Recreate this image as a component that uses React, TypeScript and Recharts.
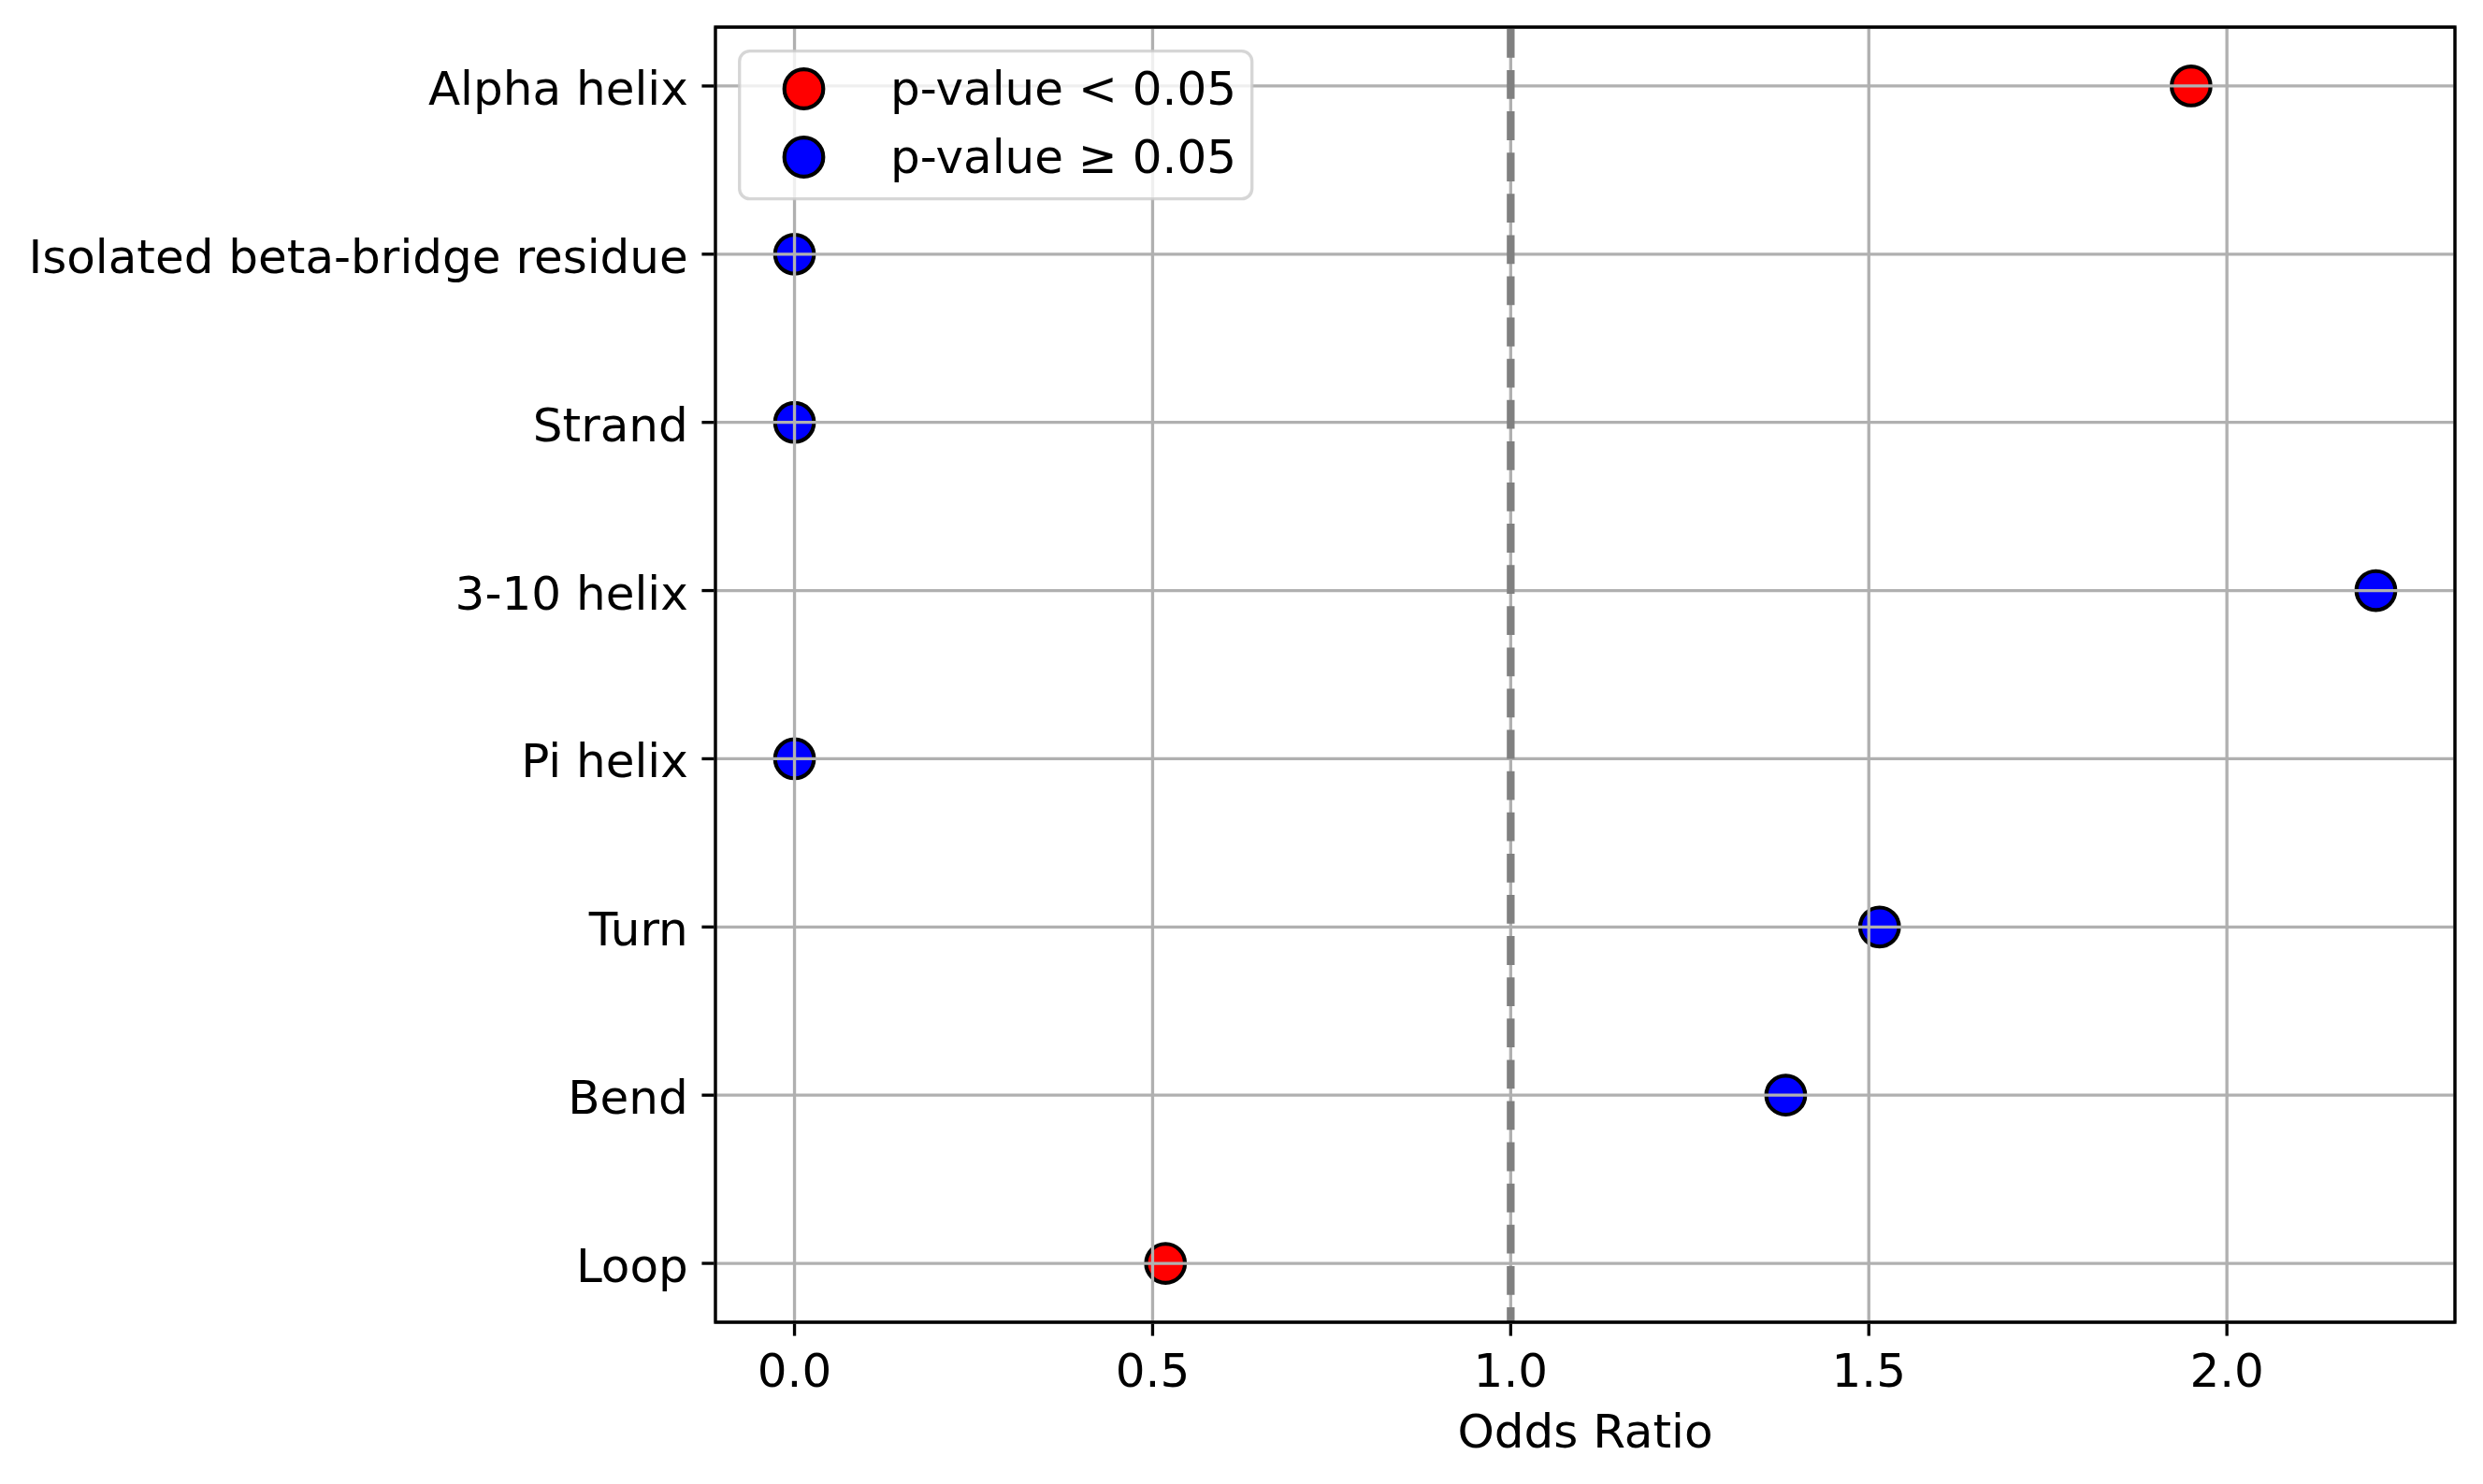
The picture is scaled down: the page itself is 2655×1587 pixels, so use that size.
import React from 'react';
import {
  ScatterChart,
  Scatter,
  XAxis,
  YAxis,
  CartesianGrid,
  ReferenceLine,
  ReferenceArea,
  Legend,
} from 'recharts';

// ---- data ----
const categories = [
  'Alpha helix',
  'Isolated beta-bridge residue',
  'Strand',
  '3-10 helix',
  'Pi helix',
  'Turn',
  'Bend',
  'Loop',
];
const oddsRatios = [1.95, 0, 0, 2.208, 0, 1.515, 1.384, 0.518];
const significant = [true, false, false, false, false, false, false, true];
const xTicks = [0, 0.5, 1, 1.5, 2];
const yTicks = [0, 1, 2, 3, 4, 5, 6, 7];
const legendLabels = ['p-value < 0.05', 'p-value \u2265 0.05'];
const referenceValue = 1;

const SIG_COLOR = '#ff0000';
const NONSIG_COLOR = '#0000ff';
const FONT = '"DejaVu Sans", sans-serif';
const FS = 50;
const LW = 3.33;

const allPoints = categories.map((c, i) => ({ name: c, x: oddsRatios[i], y: i, sig: significant[i] }));
const sigPoints = allPoints.filter((p) => p.sig);
const nonSigPoints = allPoints.filter((p) => !p.sig);

const xDomain: [number, number] = [-0.1104, 2.3184];
const yDomain: [number, number] = [-0.35, 7.35];

const Marker = (props: any) => {
  const { cx, cy, fill } = props;
  if (cx == null || cy == null) return null;
  return <circle cx={cx} cy={cy} r={20.8} fill={fill} stroke="#000" strokeWidth={4.2} />;
};

const YTick = (props: any) => {
  const { x, y, payload } = props;
  return (
    <text x={x} y={y} dy={20} textAnchor="end" fontFamily={FONT} fontSize={FS} fill="#000">
      {categories[payload.value]}
    </text>
  );
};

const XTick = (props: any) => {
  const { x, y, payload } = props;
  return (
    <text x={x} y={y} dy={52.4} textAnchor="middle" fontFamily={FONT} fontSize={FS} fill="#000">
      {Number(payload.value).toFixed(1)}
    </text>
  );
};

const XLabel = (props: any) => {
  const vb = props.viewBox || { x: 765, y: 1414, width: 1860, height: 173 };
  return (
    <text x={vb.x + vb.width / 2} y={vb.y + 134} textAnchor="middle" fontFamily={FONT} fontSize={FS} fill="#000">
      Odds Ratio
    </text>
  );
};

const LegendBox = (props: any) => {
  const payload = props.payload && props.payload.length ? props.payload : null;
  const items = legendLabels.map((lab, i) => ({
    value: payload && payload[i] ? payload[i].value : lab,
    color: payload && payload[i] && payload[i].color ? payload[i].color : i === 0 ? SIG_COLOR : NONSIG_COLOR,
  }));
  return (
    <svg width={552} height={162} style={{ display: 'block' }}>
      <rect
        x={1.7}
        y={1.7}
        width={548}
        height={158}
        rx={11}
        ry={11}
        fill="rgba(255,255,255,0.8)"
        stroke="rgba(204,204,204,0.8)"
        strokeWidth={LW}
      />
      {items.map((it, i) => (
        <g key={i}>
          <circle cx={70.5} cy={42 + i * 73} r={20.8} fill={it.color} stroke="#000" strokeWidth={4.2} />
          <text x={163} y={59 + i * 73} fontFamily={FONT} fontSize={FS} fill="#000">
            {it.value}
          </text>
        </g>
      ))}
    </svg>
  );
};

export default function App() {
  return (
    <div style={{ position: 'absolute', left: 0, top: 0, width: 2655, height: 1587, background: '#fff' }}>
      <ScatterChart width={2655} height={1587} margin={{ top: 29, right: 30, bottom: 0, left: 0 }}>
        <XAxis
          type="number"
          dataKey="x"
          domain={xDomain}
          allowDataOverflow
          ticks={xTicks}
          interval={0}
          height={173}
          axisLine={false}
          tickLine={{ stroke: '#000', strokeWidth: LW }}
          tickSize={14.6}
          tickMargin={2}
          tick={<XTick />}
          label={<XLabel />}
        />
        <YAxis
          type="number"
          dataKey="y"
          domain={yDomain}
          allowDataOverflow
          reversed
          ticks={yTicks}
          interval={0}
          width={765}
          axisLine={false}
          tickLine={{ stroke: '#000', strokeWidth: LW }}
          tickSize={14.6}
          tickMargin={14.6}
          tick={<YTick />}
        />
        <Scatter
          name={legendLabels[0]}
          data={sigPoints}
          fill={SIG_COLOR}
          shape={<Marker />}
          isAnimationActive={false}
        />
        <Scatter
          name={legendLabels[1]}
          data={nonSigPoints}
          fill={NONSIG_COLOR}
          shape={<Marker />}
          isAnimationActive={false}
        />
        <CartesianGrid stroke="#b0b0b0" strokeWidth={LW} zIndex={700} />
        <ReferenceLine
          x={referenceValue}
          stroke="#808080"
          strokeWidth={8.33}
          strokeDasharray="30.8 13.3"
          strokeDashoffset={14.8}
          zIndex={800}
        />
        <ReferenceArea
          x1={xDomain[0]}
          x2={xDomain[1]}
          y1={yDomain[0]}
          y2={yDomain[1]}
          fill="none"
          fillOpacity={0}
          stroke="#000"
          strokeWidth={LW}
          strokeOpacity={1}
          ifOverflow="visible"
          zIndex={900}
        />
        <Legend
          layout="vertical"
          align="center"
          verticalAlign="middle"
          width={552}
          height={162}
          wrapperStyle={{ left: 789, top: 53, width: 552, height: 162 }}
          content={<LegendBox />}
        />
      </ScatterChart>
    </div>
  );
}
